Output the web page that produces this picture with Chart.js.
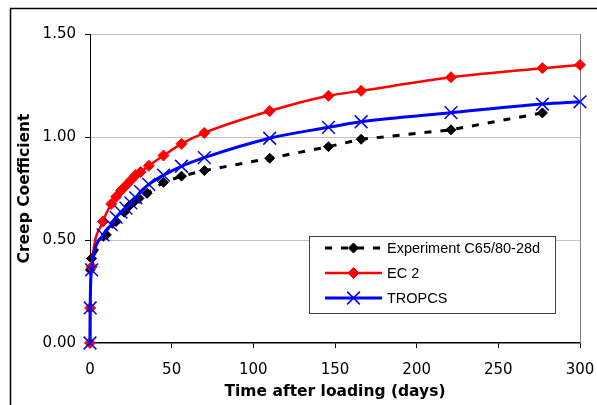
<!DOCTYPE html>
<html>
<head>
<meta charset="utf-8">
<script src="https://cdn.jsdelivr.net/npm/chart.js@4.4.1/dist/chart.umd.min.js"></script>
<style>
  html, body { margin: 0; padding: 0; background: #fff; overflow: hidden; }
  canvas { display: block; }
</style>
</head>
<body>
<canvas id="c" width="597" height="405"></canvas>
<script>
// Measured creep coefficient (C65/80, loaded at 28 days)
const expDays  = [0.2, 1, 10, 16, 21, 24, 27, 30, 35, 45, 56, 70, 110, 146, 166, 221, 277];
const expCreep = [0.355, 0.41, 0.525, 0.59, 0.635, 0.665, 0.686, 0.702, 0.727, 0.78, 0.81, 0.837, 0.897, 0.953, 0.989, 1.035, 1.117];

// Model predictions
const modelDays   = [0, 0.1, 1, 8, 13, 16, 19, 22, 25, 28, 31, 36, 45, 56, 70, 110, 146, 166, 221, 277, 300];
const ec2Creep    = [0, 0.17, 0.37, 0.59, 0.675, 0.71, 0.74, 0.765, 0.79, 0.815, 0.83, 0.86, 0.91, 0.967, 1.02, 1.126, 1.20, 1.224, 1.29, 1.334, 1.35];
const tropcsCreep = [0, 0.17, 0.355, 0.525, 0.575, 0.61, 0.635, 0.655, 0.68, 0.705, 0.735, 0.77, 0.815, 0.858, 0.90, 0.994, 1.047, 1.074, 1.118, 1.16, 1.171];

const seriesNames = ['Experiment C65/80-28d', 'EC 2', 'TROPCS'];
const xTickValues = [0, 50, 100, 150, 200, 250, 300];
const yTickValues = [0, 0.5, 1.0, 1.5];

const pairs = (xs, ys) => xs.map((x, i) => ({ x: x, y: ys[i] }));

Chart.defaults.font.family = 'DejaVu Sans';
Chart.defaults.color = '#000';

function drawMarker(ctx, style, r, x, y, fill, stroke, bw) {
  ctx.save();
  ctx.beginPath();
  ctx.setLineDash([]);
  ctx.lineWidth = bw;
  ctx.fillStyle = fill;
  ctx.strokeStyle = stroke;
  if (style === 'rectRot') {
    ctx.moveTo(x, y - r);
    ctx.lineTo(x + r, y);
    ctx.lineTo(x, y + r);
    ctx.lineTo(x - r, y);
    ctx.closePath();
    ctx.fill();
    ctx.stroke();
  } else {
    const d = r * Math.SQRT1_2;
    ctx.moveTo(x - d, y - d); ctx.lineTo(x + d, y + d);
    ctx.moveTo(x + d, y - d); ctx.lineTo(x - d, y + d);
    ctx.stroke();
  }
  ctx.restore();
}

// Frame, plot-area edge and the boxed legend
const decor = {
  id: 'decor',
  beforeDraw(chart) {
    const ctx = chart.ctx;
    ctx.save();
    ctx.strokeStyle = '#000';
    ctx.lineWidth = 1.5;
    ctx.beginPath();
    ctx.moveTo(10.5, 420);
    ctx.lineTo(10.5, 8.5);
    ctx.lineTo(620, 8.5);
    ctx.stroke();
    ctx.restore();
  },
  beforeDatasetsDraw(chart) {
    const { ctx, chartArea: a } = chart;
    ctx.save();
    ctx.strokeStyle = '#808080';
    ctx.lineWidth = 1;
    ctx.beginPath();
    ctx.moveTo(a.right + 0.5, a.top);
    ctx.lineTo(a.right + 0.5, a.bottom);
    ctx.stroke();
    ctx.restore();
  },
  afterDraw(chart) {
    const ctx = chart.ctx;
    const box = { x: 309.5, y: 236.5, w: 246, h: 77 };
    ctx.save();
    ctx.fillStyle = '#fff';
    ctx.fillRect(box.x, box.y, box.w, box.h);
    ctx.strokeStyle = '#404040';
    ctx.lineWidth = 1;
    ctx.strokeRect(box.x, box.y, box.w, box.h);
    ctx.font = '14.5px "Liberation Sans"';
    ctx.textBaseline = 'middle';
    ctx.textAlign = 'left';
    chart.data.datasets.forEach((ds, i) => {
      const y = 248 + i * 25;
      ctx.save();
      ctx.strokeStyle = ds.borderColor;
      ctx.lineWidth = ds.borderWidth;
      ctx.setLineDash(ds.borderDash || []);
      ctx.beginPath();
      ctx.moveTo(325, y);
      ctx.lineTo(382, y);
      ctx.stroke();
      ctx.restore();
      drawMarker(ctx, ds.pointStyle, ds.pointRadius, 353.5, y,
                 ds.pointBackgroundColor, ds.pointBorderColor, ds.pointBorderWidth);
      ctx.fillStyle = '#000';
      ctx.fillText(ds.label, 387, y + 1);
    });
    ctx.restore();
  }
};

new Chart(document.getElementById('c'), {
  type: 'line',
  data: {
    datasets: [
      {
        label: seriesNames[0],
        data: pairs(expDays, expCreep),
        borderColor: '#000',
        borderWidth: 3,
        borderDash: [7, 9],
        pointStyle: 'rectRot',
        pointRadius: 5,
        pointBackgroundColor: '#000',
        pointBorderColor: '#000',
        pointBorderWidth: 1,
        tension: 0,
        clip: false,
        order: 2
      },
      {
        label: seriesNames[1],
        data: pairs(modelDays, ec2Creep),
        borderColor: '#ff0000',
        borderWidth: 2.5,
        pointStyle: 'rectRot',
        pointRadius: 5.5,
        pointBackgroundColor: '#ff0000',
        pointBorderColor: '#ff0000',
        pointBorderWidth: 1,
        cubicInterpolationMode: 'monotone',
        clip: false,
        order: 1
      },
      {
        label: seriesNames[2],
        data: pairs(modelDays, tropcsCreep),
        borderColor: '#0000ff',
        borderWidth: 3,
        pointStyle: 'crossRot',
        pointRadius: 9,
        pointBackgroundColor: '#0000ff',
        pointBorderColor: '#0000ff',
        pointBorderWidth: 1.5,
        cubicInterpolationMode: 'monotone',
        clip: false,
        order: 0
      }
    ]
  },
  options: {
    responsive: false,
    animation: false,
    events: [],
    layout: { padding: { left: 0, top: 34, right: 17, bottom: 0 } },
    plugins: { legend: { display: false }, tooltip: { enabled: false } },
    scales: {
      x: {
        type: 'linear',
        min: 0,
        max: 300,
        afterBuildTicks: s => { s.ticks = xTickValues.map(v => ({ value: v })); },
        afterFit: s => { s.height = 62; s.paddingLeft = 0; s.paddingRight = 0; },
        ticks: { font: { size: 15 }, color: '#000', padding: 13, maxRotation: 0, callback: v => String(v) },
        grid: { drawOnChartArea: false, drawTicks: true, tickLength: 5, tickColor: '#000' },
        border: { color: '#000', width: 1.5 },
        title: {
          display: true,
          text: 'Time after loading (days)',
          font: { size: 15.5, weight: 'bold' },
          color: '#000',
          padding: { top: 0, bottom: 4 }
        }
      },
      y: {
        min: 0,
        max: 1.5,
        afterBuildTicks: s => { s.ticks = yTickValues.map(v => ({ value: v })); },
        afterFit: s => { s.width = 90; s.paddingTop = 0; s.paddingBottom = 0; },
        ticks: { font: { size: 15 }, color: '#000', padding: 9, callback: v => v.toFixed(2) },
        grid: {
          color: c => (c.tick && c.tick.value === 0) ? 'rgba(0,0,0,0)' : '#c0c0c0',
          lineWidth: 1,
          drawTicks: true,
          tickLength: 5,
          tickColor: '#000'
        },
        border: { color: '#000', width: 1 },
        title: {
          display: true,
          text: 'Creep Coefficient',
          font: { size: 15.5, weight: 'bold' },
          color: '#000',
          padding: { top: 16, bottom: 0 }
        }
      }
    }
  },
  plugins: [decor]
});
</script>
</body>
</html>
